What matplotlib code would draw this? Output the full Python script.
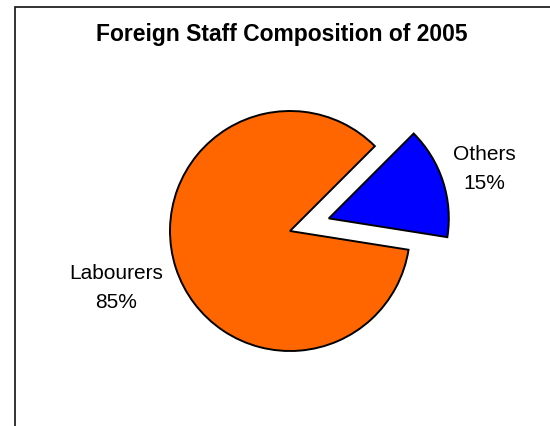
import numpy as np
import matplotlib.pyplot as plt
from matplotlib.patches import Rectangle

plt.rcParams['font.family'] = ['Liberation Sans', 'DejaVu Sans']

# Staff composition data
groups = ['Labourers', 'Others']
shares = [85, 15]
colors = ['#FF6600', '#0000FF']
explode = [0, 0.34]
label_dist = [1.52, 1.36]

fig = plt.figure(figsize=(5.5, 4.27), dpi=100)
ax = fig.add_axes([0, 0, 1, 1])

labels = [f"{g}\n{s}%" for g, s in zip(groups, shares)]
wedges, texts = ax.pie(shares, labels=labels, colors=colors, explode=explode,
                       startangle=45,
                       wedgeprops=dict(edgecolor='black', linewidth=1.4),
                       textprops=dict(fontsize=15, linespacing=1.65))

# put each label out along its wedge's bisector
for w, t, d in zip(wedges, texts, label_dist):
    mid = np.deg2rad((w.theta1 + w.theta2) / 2)
    cx, cy = w.center
    t.set_position((cx + d * np.cos(mid), cy + d * np.sin(mid)))
    t.set_ha('center')
    t.set_va('center')

# one data unit = 120 px, pie centre at (290, 232) px from top-left
ax.set_xlim(-290 / 120, (550 - 290) / 120)
ax.set_ylim(-(427 - 232) / 120, 232 / 120)
ax.set_aspect('equal')
ax.axis('off')

fig.text(282 / 550, 1 - 35 / 427, "Foreign Staff Composition of 2005",
         ha='center', va='center', fontsize=16.5, fontweight='bold')

# chart border
fig.patches.append(Rectangle((15 / 550, -0.05), 1.1, 1 - 8 / 427 + 0.05,
                             transform=fig.transFigure, fill=False,
                             edgecolor='#222222', linewidth=1.3))

plt.savefig("out.png", dpi=100)
